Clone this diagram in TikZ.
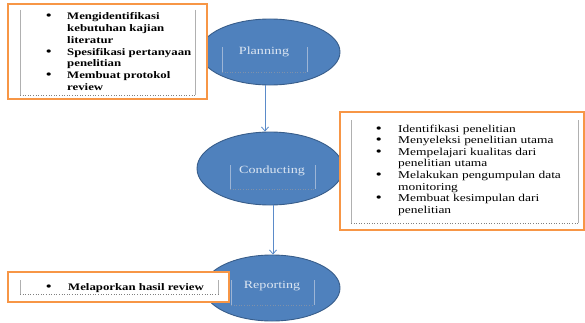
\documentclass[tikz,border=0pt]{standalone}
\usepackage{fontspec}
\setmainfont[FakeStretch=1.28]{Liberation Serif}
\usetikzlibrary{shapes.geometric,arrows.meta}
\definecolor{ellfill}{HTML}{4F81BD}
\definecolor{elldraw}{HTML}{385D8A}
\definecolor{elltext}{HTML}{DCE6F2}
\definecolor{arrcol}{HTML}{5B8BC9}
\definecolor{orangeb}{HTML}{F79646}
\definecolor{innergray}{HTML}{B0B0B0}
\definecolor{innerblue}{HTML}{9DB5D6}
\newcommand{\blt}{\textbf{\large\textbullet}}
\begin{document}
\begin{tikzpicture}[x=1pt,y=1pt,
  ell/.style={ellipse,fill=ellfill,draw=elldraw,line width=0.9pt,inner sep=0pt},
  elllabel/.style={text=elltext,font=\fontsize{11}{13}\selectfont,inner sep=0pt},
  obox/.style={draw=orangeb,line width=2pt,fill=white,inner sep=0pt},
  txt/.style={inner sep=0pt,anchor=base west,font=\fontsize{10}{11.7}\selectfont},
  arr/.style={draw=arrcol,line width=0.8pt,-{Straight Barb[length=4pt,width=7pt]}},
  gline/.style={draw=innergray,line width=0.6pt},
  gdot/.style={draw=gray,line width=0.6pt,dotted},
  bline/.style={draw=innerblue,line width=0.5pt},
  bdot/.style={draw=innerblue!80!black,line width=0.6pt,dotted}]
\useasboundingbox (0,0) rectangle (585,322);

% ellipses
\node[ell,minimum width=140,minimum height=66] (plan) at (270,270) {};
\node[ell,minimum width=146,minimum height=73] (cond) at (270,153.5) {};
\node[ell,minimum width=136,minimum height=66] (rep) at (272,34) {};

% inner text frames in ellipses
\draw[bline] (222,275) -- (222,250);
\draw[bline] (307,275) -- (307,250);
\draw[bdot] (222,250) -- (307,250);
\node[elllabel] (planT) at (264,270) {Planning};

\draw[bline] (230,157) -- (230,133);
\draw[bline] (315,157) -- (315,133);
\draw[bdot] (230,133) -- (315,133);
\node[elllabel] (condT) at (272,151) {Conducting};

\draw[bline] (231,42) -- (231,17);
\draw[bline] (314,42) -- (314,17);
\draw[bdot] (231,17) -- (314,17);
\node[elllabel] (repT) at (272,36) {Reporting};

% orange boxes
\node[obox,minimum width=199,minimum height=95] (boxP) at (107.5,270.5) {};
\draw[gline] (20,312) -- (20,227);
\draw[gline] (195,312) -- (195,227);
\draw[gdot] (20,227) -- (195,227);
\node[txt] (listP) at (46,302) {\begin{tabular}[t]{@{}p{21pt}@{}l@{}}
\blt & \textbf{Mengidentifikasi}\\
 & \textbf{kebutuhan kajian}\\
 & \textbf{literatur}\\
\blt & \textbf{Spesifikasi pertanyaan}\\
 & \textbf{penelitian}\\
\blt & \textbf{Membuat protokol}\\
 & \textbf{review}
\end{tabular}};

\node[obox,minimum width=244,minimum height=118] (boxC) at (462,151) {};
\draw[gline] (351,202) -- (351,99);
\draw[gline] (578,202) -- (578,99);
\draw[gdot] (351,99) -- (578,99);
\node[txt,font=\fontsize{10.5}{11.6}\selectfont] (listC) at (376,190) {\begin{tabular}[t]{@{}p{22pt}@{}l@{}}
\blt & Identifikasi penelitian\\
\blt & Menyeleksi penelitian utama\\
\blt & Mempelajari kualitas dari\\
 & penelitian utama\\
\blt & Melakukan pengumpulan data\\
 & monitoring\\
\blt & Membuat kesimpulan dari\\
 & penelitian
\end{tabular}};

\node[obox,minimum width=221,minimum height=30] (boxR) at (118.5,35) {};
\draw[gline] (20,42) -- (20,28);
\draw[gline] (218,42) -- (218,28);
\draw[gdot] (20,28) -- (218,28);
\node[txt] (listR) at (46,32) {\begin{tabular}[t]{@{}p{22pt}@{}l@{}}
\blt & \textbf{Melaporkan hasil review}
\end{tabular}};

% connectors
\draw[arr] ([xshift=-5pt]plan.south) -- ([xshift=-5pt]plan.south |- cond.north);
\draw[arr] ([xshift=3pt]cond.south) -- ([xshift=3pt]cond.south |- rep.north);
\end{tikzpicture}
\end{document}
